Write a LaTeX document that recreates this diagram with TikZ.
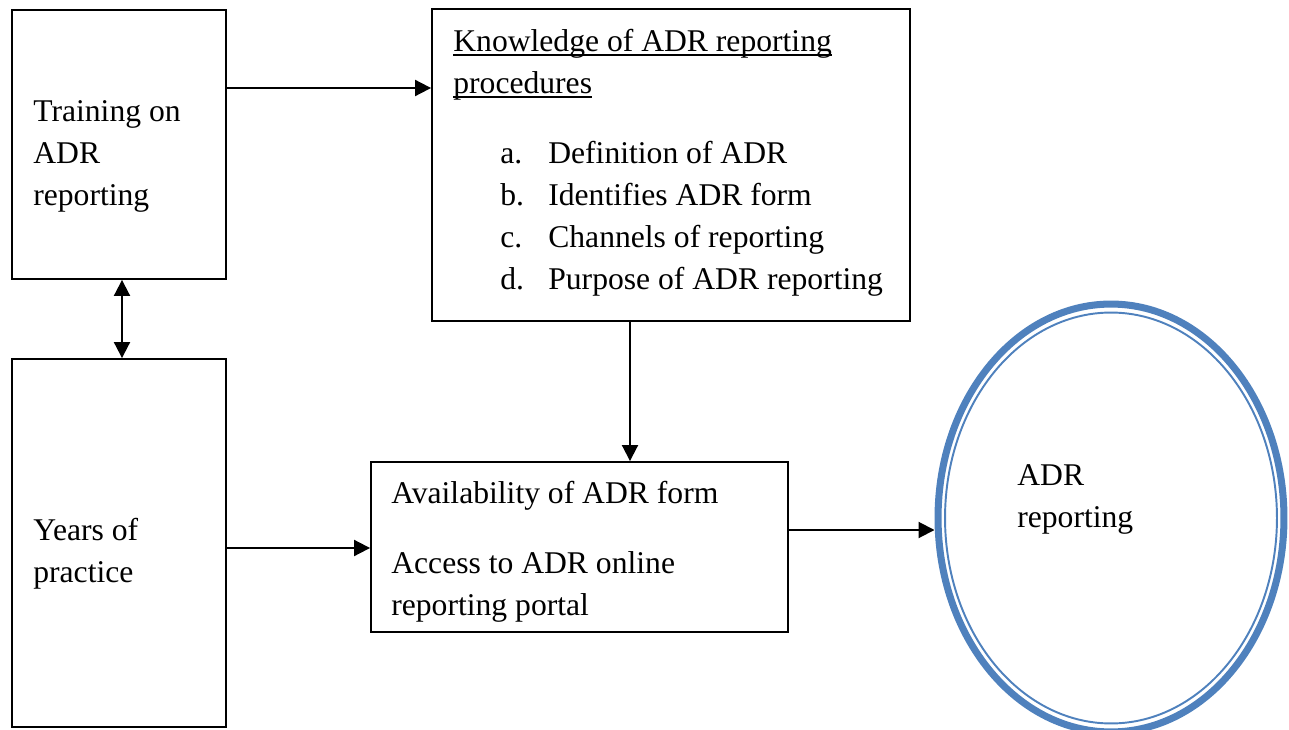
\documentclass[tikz,border=0pt]{standalone}
\usepackage{fontspec}
\setmainfont{Liberation Serif}
\usepackage{xcolor}
\usetikzlibrary{arrows.meta,shapes,positioning,calc}

\definecolor{adrblue}{RGB}{79,129,189}
\newcommand{\ulword}[1]{\setbox0\hbox{#1}\rlap{\rule[-0.09cm]{\wd0}{0.03cm}}\box0}

\begin{document}
\begin{tikzpicture}[x=0.02cm,y=-0.02cm,
  >={Triangle[length=0.32cm,width=0.32cm]},
  box/.style={draw=black,line width=1.1pt,inner sep=0pt},
  txt/.style={anchor=base west,inner sep=0pt,align=left,font=\fontsize{18}{23.9}\selectfont},
  arr/.style={line width=1.1pt,->}]
\useasboundingbox (0,0) rectangle (1289,730);

% boxes
\node[box,minimum width=4.28cm,minimum height=5.38cm](train) at (119,144.5) {};
\node[box,minimum width=4.28cm,minimum height=7.36cm](years) at (119,543) {};
\node[box,minimum width=9.56cm,minimum height=6.24cm](know) at (671,165) {};
\node[box,minimum width=8.34cm,minimum height=3.4cm](avail) at (579.5,547) {};
\node[shape=ellipse,draw=adrblue,line width=4pt,minimum width=6.92cm,minimum height=8.56cm,inner sep=0pt](adr) at (1111,518) {};
\node[shape=ellipse,draw=adrblue,line width=1.1pt,minimum width=6.64cm,minimum height=8.22cm,inner sep=0pt](adrin) at (adr.center) {};

% texts (placed at the baseline of their last line)
\node[txt](traintxt) at (33,205) {Training on\\ADR\\reporting};
\node[txt](yearstxt) at (33,582) {Years of\\practice};
\node[txt](knowtxt) at (453,93) {\ulword{Knowledge of ADR reporting}\\\ulword{procedures}};
\node[txt](knowlist) at (500,289) {\makebox[0.96cm][l]{a.}Definition of ADR\\
  \makebox[0.96cm][l]{b.}Identifies ADR form\\
  \makebox[0.96cm][l]{c.}Channels of reporting\\
  \makebox[0.96cm][l]{d.}Purpose of ADR reporting};
\node[txt](availtxt) at (391,615) {Availability of ADR form\\[0.56cm]Access to ADR online\\reporting portal};
\node[txt](adrtxt) at (1017,527) {ADR\\reporting};

% arrows
\draw[arr] (train.east |- 0,88) -- (know.west |- 0,88);
\draw[arr,<->] (train.south -| 122,0) -- (years.north -| 122,0);
\draw[arr] (know.south -| 630,0) -- (avail.north -| 630,0);
\draw[arr] (years.east |- 0,548) -- (avail.west |- 0,548);
\draw[arr] (avail.east |- 0,530) -- (adr.west |- 0,530);
\end{tikzpicture}
\end{document}
